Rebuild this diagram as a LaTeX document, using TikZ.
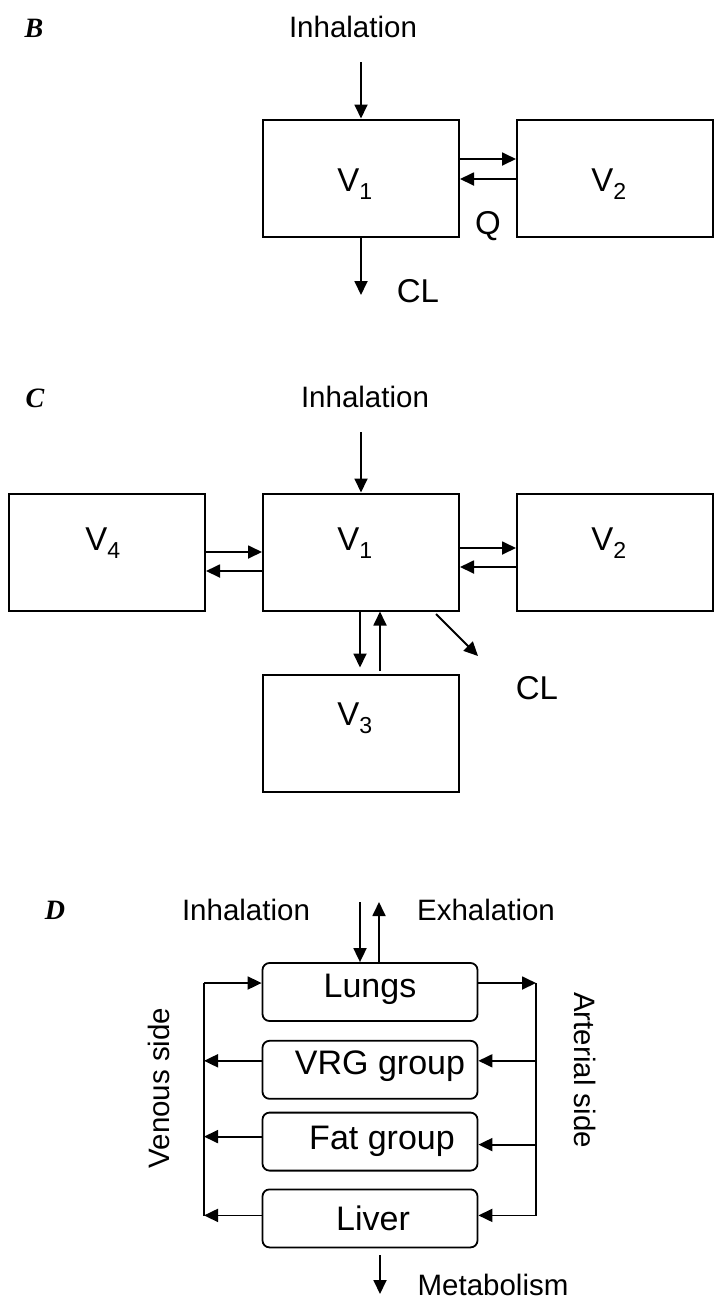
\documentclass[tikz,border=0pt]{standalone}
\usepackage{fontspec}
\setmainfont{Liberation Sans}
\newfontfamily\panelfont{Liberation Serif}
\usetikzlibrary{arrows.meta,positioning}

\tikzset{
  comp/.style={draw, line width=2pt, minimum width=196pt, minimum height=117pt, inner sep=0pt},
  organ/.style={draw, line width=1.8pt, rounded corners=7pt, minimum width=215pt, minimum height=58pt, inner sep=0pt},
  flow/.style={line width=1.8pt, -{Triangle[length=14pt,width=13pt]}},
  bus/.style={line width=1.8pt},
  txt/.style={font=\fontsize{29.5}{33}\selectfont},
  vtxt/.style={font=\fontsize{33}{36}\selectfont},
  otxt/.style={font=\fontsize{34}{38}\selectfont},
  panel/.style={font=\fontsize{28}{30}\selectfont\panelfont\bfseries\itshape},
}

\begin{document}
\begin{tikzpicture}[x=1pt,y=-1pt]
  \useasboundingbox (0,0) rectangle (715,1302);

  % panel B: two compartments
  \node[panel] (pb) at (34,28) {B};
  \node[txt] (binh) at (353,27) {Inhalation};
  \node[comp, label={[vtxt,xshift=-6pt,yshift=-6pt]center:V\textsubscript{1}}] (b1) at (361,178) {};
  \node[comp, right=56pt of b1, label={[vtxt,xshift=-6pt,yshift=-6pt]center:V\textsubscript{2}}] (b2) {};
  \coordinate (bin) at (361,62);
  \coordinate (bcl) at (361,295);
  \draw[flow] (bin) -- (b1.north);
  \draw[flow] ([yshift=19pt]b1.east) -- ([yshift=19pt]b2.west);
  \draw[flow] ([yshift=-1pt]b2.west) -- ([yshift=-1pt]b1.east);
  \draw[flow] (b1.south) -- (bcl);
  \node[vtxt] (bq) at (488,226) {Q};
  \node[vtxt] (bcltxt) at (418,291) {CL};

  % panel C: four compartments
  \node[panel] (pc) at (35,398) {C};
  \node[txt] (cinh) at (365,397) {Inhalation};
  \node[comp, label={[vtxt,xshift=-6pt,yshift=9pt]center:V\textsubscript{1}}] (c1) at (361,552) {};
  \node[comp, left=56pt of c1, label={[vtxt,xshift=-4pt,yshift=9pt]center:V\textsubscript{4}}] (c4) {};
  \node[comp, right=56pt of c1, label={[vtxt,xshift=-6pt,yshift=9pt]center:V\textsubscript{2}}] (c2) {};
  \node[comp, below=62pt of c1, label={[vtxt,xshift=-6pt,yshift=15pt]center:V\textsubscript{3}}] (c3) {};
  \coordinate (cin) at (361,432);
  \coordinate (ccl0) at (436,614);
  \coordinate (ccl) at (478,656);
  \draw[flow] (cin) -- (c1.north);
  \draw[flow] (c4.east) -- (c1.west);
  \draw[flow] ([yshift=-19pt]c1.west) -- ([yshift=-19pt]c4.east);
  \draw[flow] ([yshift=4pt]c1.east) -- ([yshift=4pt]c2.west);
  \draw[flow] ([yshift=-15pt]c2.west) -- ([yshift=-15pt]c1.east);
  \draw[flow, shorten >=6pt] ([xshift=-1pt]c1.south) -- ([xshift=-1pt]c3.north);
  \draw[flow, shorten <=3pt] ([xshift=19pt]c3.north) -- ([xshift=19pt]c1.south);
  \draw[flow] (ccl0) -- (ccl);
  \node[vtxt] (ccltxt) at (537,688) {CL};

  % panel D: physiological model
  \node[panel] (pd) at (55,910) {D};
  \node[txt] (dinh) at (246,910) {Inhalation};
  \node[txt] (dexh) at (486,910) {Exhalation};
  \node[organ, label={[otxt,yshift=3pt]center:Lungs}] (lungs) at (370,992) {};
  \node[organ, below=18pt of lungs, label={[otxt,xshift=10pt,yshift=4pt]center:VRG group}] (vrg) {};
  \node[organ, below=12pt of vrg, label={[otxt,xshift=12pt]center:Fat group}] (fat) {};
  \node[organ, below=17pt of fat, label={[otxt,xshift=3pt]center:Liver}] (liver) {};
  \coordinate (din) at (360,902);
  \coordinate (dout) at (379,902);
  \draw[flow] (din) -- (din |- lungs.north);
  \draw[flow] (dout |- lungs.north) -- (dout);

  % venous and arterial sides
  \coordinate (vtop) at (204,983);
  \coordinate (vbot) at (204,1216);
  \coordinate (atop) at (536,983);
  \coordinate (abot) at (536,1216);
  \draw[bus] (vtop) -- (vbot);
  \draw[bus] (atop) -- (abot);
  \draw[flow] (vtop) -- (vtop -| lungs.west);
  \draw[flow] (atop -| lungs.east) -- (atop);
  \foreach \o/\l/\r in {vrg/9/9, fat/5/-3, liver/3/3} {
    \path ([yshift=\r pt]\o.east) coordinate (oin) ([yshift=\l pt]\o.west) coordinate (oout);
    \draw[flow] (oin -| atop) -- (oin);
    \draw[flow] (oout) -- (oout -| vtop);
  }
  \node[txt, rotate=90] (venous) at (159,1088) {Venous side};
  \node[txt, rotate=-90] (arterial) at (585,1070) {Arterial side};
  \coordinate (dmet) at (380,1294);
  \draw[flow, shorten <=7pt] (dmet |- liver.south) -- (dmet);
  \node[txt] (metab) at (493,1285) {Metabolism};
\end{tikzpicture}
\end{document}
